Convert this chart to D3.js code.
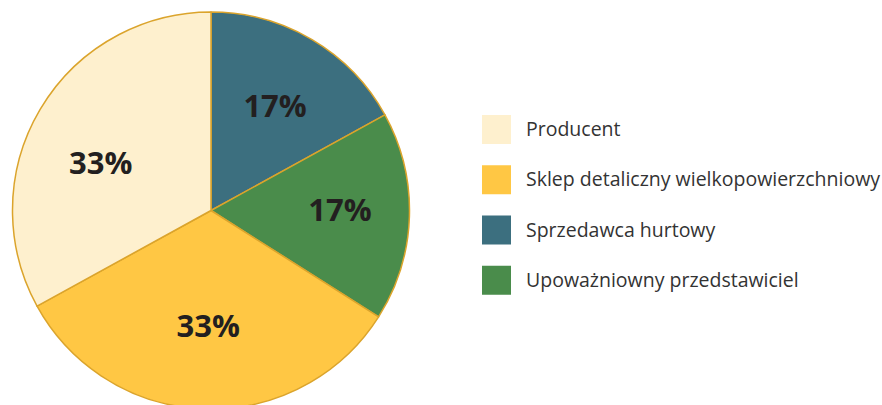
<!DOCTYPE html>
<html>
<head>
<meta charset="utf-8">
<script src="https://cdn.jsdelivr.net/npm/d3@7"></script>
<style>
  html, body { margin: 0; padding: 0; background: #fff; }
  svg { display: block; font-family: 'Open Sans', 'Noto Sans', sans-serif; }
</style>
</head>
<body>
<div class="top"></div>
<script>
// data, in clockwise order from 12 o'clock
const categories = ['Sprzedawca hurtowy', 'Upoważniowny przedstawiciel', 'Sklep detaliczny wielkopowierzchniowy', 'Producent'];
const values = [17, 17, 33, 33];
const colors = ['#3c6f7f', '#4a8c4b', '#ffc744', '#fef0ce'];
// legend order as in the picture
const legendOrder = ['Producent', 'Sklep detaliczny wielkopowierzchniowy', 'Sprzedawca hurtowy', 'Upoważniowny przedstawiciel'];

const W = 882, H = 405;
const cx = 211, cy = 210.5, R = 198.5;

// small hand nudges of the percentage labels off the centroid
const labelNudge = [[3, -1], [9, -4], [1, -5], [-7, 13]];

const color = d3.scaleOrdinal().domain(categories).range(colors);
const rows = categories.map((c, i) => ({ name: c, value: values[i], nudge: labelNudge[i] }));
const total = d3.sum(values);

const pie = d3.pie().sort(null).value(d => d.value);
const arc = d3.arc().innerRadius(0).outerRadius(R);
const labelArc = d3.arc().innerRadius(240).outerRadius(0);

const svg = d3.select('.top')
  .append('svg')
    .attr('width', W)
    .attr('height', H);

svg.append('g')
  .attr('transform', `translate(${cx},${cy})`)
  .call(g => {

    g.selectAll('path').data(pie(rows))
      .join('path')
        .attr('d', arc)
        .attr('fill', d => color(d.data.name))
        .attr('stroke', '#dba42c')
        .attr('stroke-width', 1.5)
        .attr('stroke-linejoin', 'round');

    g.selectAll('text').data(pie(rows))
      .join('text')
        .attr('transform', d => {
          const [x, y] = labelArc.centroid(d);
          return `translate(${x + d.data.nudge[0]},${y + d.data.nudge[1]})`;
        })
        .attr('text-anchor', 'middle')
        .attr('dy', '0.36em')
        .style('font-size', '31px')
        .style('font-weight', 700)
        .attr('fill', '#231f20')
        .text(d => Math.round(d.data.value / total * 100) + '%');
  });

const y = d3.scaleBand().domain(legendOrder).range([115, 316]);

svg.append('g').attr('class', 'legend')
  .selectAll('g').data(legendOrder)
  .join('g')
    .attr('transform', d => `translate(482,${y(d)})`)
    .call(sel => {
      sel.append('rect')
        .attr('width', 29)
        .attr('height', 29)
        .attr('fill', d => color(d));
      sel.append('text')
        .attr('x', 44)
        .attr('y', 14)
        .attr('dy', '0.36em')
        .style('font-size', '19.5px')
        .attr('fill', '#333')
        .text(d => d);
    });
</script>
</body>
</html>
